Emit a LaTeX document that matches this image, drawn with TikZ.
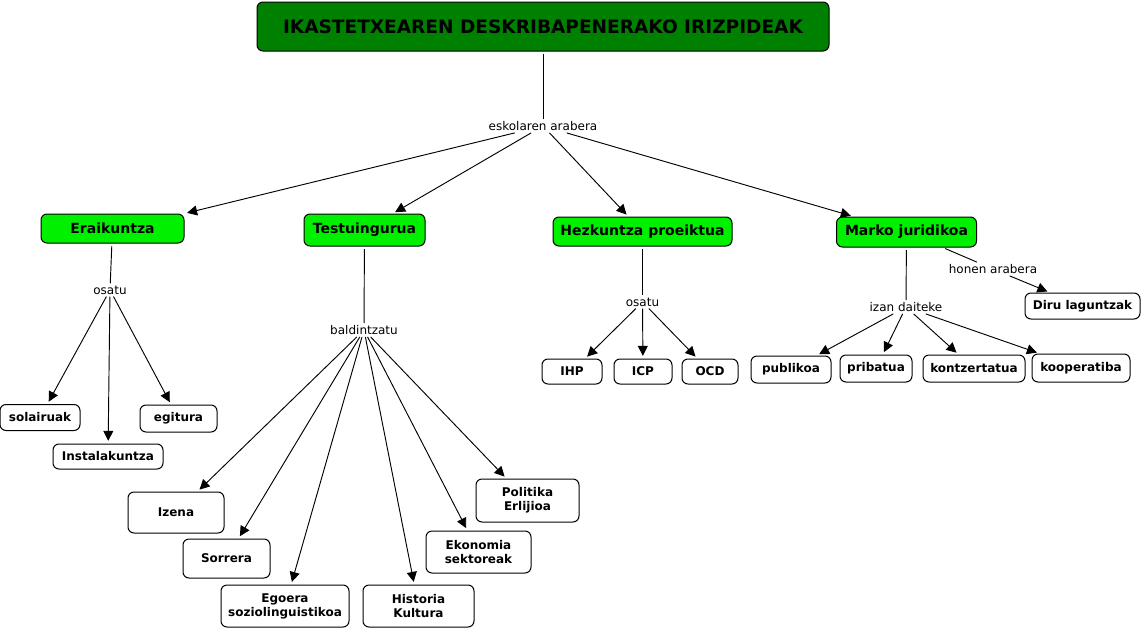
\documentclass[tikz,border=0pt]{standalone}
\usepackage{fontspec}
\setmainfont{DejaVu Sans}
\usetikzlibrary{arrows.meta}
\definecolor{darkg}{RGB}{0,128,0}
\definecolor{lightg}{RGB}{0,240,0}
\tikzset{
  sz/.style 2 args={minimum width=#1*0.75pt, minimum height=#2*0.75pt},
  box/.style={draw=black, line width=0.75pt, rounded corners=4.5pt, inner sep=0pt, align=center,
    font=\bfseries\fontsize{9}{10.5}\selectfont},
  mainbox/.style={box, fill=lightg, font=\bfseries\fontsize{10.5}{12}\selectfont},
  titlebox/.style={box, fill=darkg, font=\bfseries\fontsize{13.9}{16}\selectfont},
  lbl/.style={inner sep=1.5pt, font=\fontsize{9}{10.5}\selectfont, fill=white},
  ln/.style={line width=0.7pt, shorten <=2pt},
  arr/.style={line width=0.7pt, -{Triangle[length=7.5pt,width=7.5pt]}, shorten >=2pt}
}
\begin{document}
\begin{tikzpicture}[x=0.75pt,y=-0.75pt]
\fill[white] (0,0) rectangle (1143,629);
\useasboundingbox (0,0) rectangle (1143,629);

% nodes
\node[titlebox, sz={572}{49}] (title) at (543,26.5) {IKASTETXEAREN DESKRIBAPENERAKO IRIZPIDEAK};
\node[lbl] (esk) at (543,126) {eskolaren arabera};

\node[mainbox, sz={143}{29}] (erai) at (112.5,228.5) {Eraikuntza};
\node[mainbox, sz={121}{32}] (test) at (364.5,230) {Testuingurua};
\node[mainbox, sz={179}{29}] (hezk) at (642.5,231.5) {Hezkuntza proeiktua};
\node[mainbox, sz={140}{30}] (marko) at (906.5,232) {Marko juridikoa};

\node[lbl] (osatua) at (110,290) {osatu};
\node[lbl] (bald) at (364,330) {baldintzatu};
\node[lbl] (osatub) at (642.5,302) {osatu};
\node[lbl] (izan) at (906,307) {izan daiteke};
\node[lbl] (honen) at (993,269) {honen arabera};

\node[box, sz={80}{26}] (sola) at (40,417.5) {solairuak};
\node[box, sz={110}{25}] (inst) at (108,456.5) {Instalakuntza};
\node[box, sz={77}{27}] (egit) at (178.5,418.5) {egitura};

\node[box, sz={60}{25}] (ihp) at (572,371.5) {IHP};
\node[box, sz={58}{25}] (icp) at (643,371.5) {ICP};
\node[box, sz={56}{25}] (ocd) at (710,371.5) {OCD};

\node[box, sz={80}{27}] (publ) at (791,369.5) {publikoa};
\node[box, sz={72}{27}] (prib) at (876,368.5) {pribatua};
\node[box, sz={102}{27}] (kont) at (974,368.5) {kontzertatua};
\node[box, sz={98}{28}] (koop) at (1081,368) {kooperatiba};
\node[box, sz={115}{26}] (diru) at (1082.5,306) {Diru laguntzak};

\node[box, sz={96}{41}] (izena) at (176,512.5) {Izena};
\node[box, sz={87}{39}] (sorr) at (226.5,558.5) {Sorrera};
\node[box, sz={128}{42}] (egoe) at (285,606) {Egoera\\soziolinguistikoa};
\node[box, sz={111}{42}] (hist) at (418.5,606) {Historia\\Kultura};
\node[box, sz={105}{42}] (ekon) at (478.5,552) {Ekonomia\\sektoreak};
\node[box, sz={103}{43}] (poli) at (527.5,500.5) {Politika\\Erlijioa};

% connectors
\draw[ln] (title) -- (esk);
\draw[arr] (esk) -- (erai.north east);
\draw[arr] (esk) -- (test);
\draw[arr] (esk) -- (hezk);
\draw[arr] (esk) -- (marko);

\draw[ln] (erai) -- (osatua);
\draw[arr] (osatua) -- (sola);
\draw[arr] (osatua) -- (inst);
\draw[arr] (osatua) -- (egit);

\draw[ln] (test) -- (bald);
\draw[arr] (bald) -- (izena);
\draw[arr] (bald) -- (sorr);
\draw[arr] (bald) -- (egoe);
\draw[arr] (bald) -- (hist);
\draw[arr] (bald) -- (ekon);
\draw[arr] (bald) -- (poli);

\draw[ln] (hezk) -- (osatub);
\draw[arr] (osatub) -- (ihp);
\draw[arr] (osatub) -- (icp);
\draw[arr] (osatub) -- (ocd);

\draw[ln] (marko) -- (izan);
\draw[arr] (izan) -- (publ);
\draw[arr] (izan) -- (prib);
\draw[arr] (izan) -- (kont);
\draw[arr] (izan) -- (koop);

\draw[ln] (marko) -- (honen);
\draw[arr] (honen) -- (diru);
\end{tikzpicture}
\end{document}
